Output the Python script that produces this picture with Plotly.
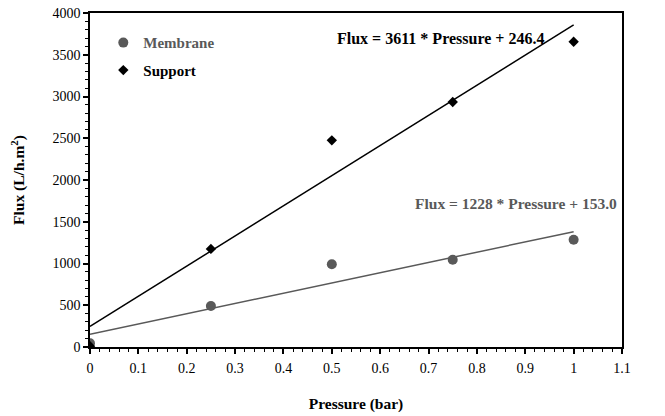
import plotly.graph_objects as go

pressure = [0, 0.25, 0.5, 0.75, 1.0]
membrane_flux = [45, 490, 990, 1045, 1285]
support_flux = [10, 1175, 2475, 2935, 3655]

fit_x = [0, 1.0]
support_slope, support_intercept = 3611, 246.4
membrane_slope, membrane_intercept = 1228, 153.0

x_tick_vals = [0, 0.1, 0.2, 0.3, 0.4, 0.5, 0.6, 0.7, 0.8, 0.9, 1.0, 1.1]
x_tick_text = ["0", "0.1", "0.2", "0.3", "0.4", "0.5", "0.6", "0.7", "0.8", "0.9", "1", "1.1"]

GRAY = "#595959"
FONT = "Liberation Serif"

fig = go.Figure()
fig.add_trace(go.Scatter(x=fit_x, y=[support_slope * x + support_intercept for x in fit_x],
                         mode="lines", line=dict(color="black", width=1.5), showlegend=False))
fig.add_trace(go.Scatter(x=fit_x, y=[membrane_slope * x + membrane_intercept for x in fit_x],
                         mode="lines", line=dict(color=GRAY, width=1.5), showlegend=False))
fig.add_trace(go.Scatter(x=pressure, y=membrane_flux, mode="markers", legendgroup="m",
                         name="<span style='color:%s'><b>Membrane</b></span>" % GRAY,
                         marker=dict(symbol="circle", size=10, color=GRAY)))
fig.add_trace(go.Scatter(x=pressure, y=support_flux, mode="markers", legendgroup="s",
                         name="<b>Support</b>",
                         marker=dict(symbol="diamond", size=8, color="black")))

fig.add_annotation(x=0.725, y=3700, text="<b>Flux = 3611 * Pressure + 246.4</b>",
                   showarrow=False, font=dict(family=FONT, size=16, color="black"))
fig.add_annotation(x=0.88, y=1713, text="<b>Flux = 1228 * Pressure + 153.0</b>",
                   showarrow=False, font=dict(family=FONT, size=15.5, color=GRAY))

fig.update_layout(
    width=665, height=416,
    margin=dict(l=90, r=43, t=13, b=69),
    plot_bgcolor="white", paper_bgcolor="white",
    font=dict(family=FONT, size=14, color="black"),
    legend=dict(x=0.025, y=0.96, xanchor="left", yanchor="top",
                bgcolor="rgba(0,0,0,0)", font=dict(family=FONT, size=15),
                itemwidth=30, tracegroupgap=5),
    xaxis=dict(range=[0, 1.1], tickvals=x_tick_vals, ticktext=x_tick_text, automargin=False,
               showgrid=False, zeroline=False, showline=True, linecolor="black", linewidth=1.5,
               mirror=True, ticks="outside", ticklen=5, tickwidth=1.5, tickcolor="black",
               ticklabelstandoff=2,
               minor=dict(dtick=0.02, ticks="outside", ticklen=3, tickcolor="black", tickwidth=1),
               title=dict(text="<b>Pressure (bar)</b>", font=dict(family=FONT, size=15.5), standoff=24)),
    yaxis=dict(range=[0, 4000], dtick=500, showgrid=False, zeroline=False, showline=True,
               automargin=False,
               linecolor="black", linewidth=1.5, mirror=True, ticks="outside", ticklen=5,
               tickwidth=1.5, tickcolor="black",
               minor=dict(dtick=100, ticks="outside", ticklen=3, tickcolor="black", tickwidth=1),
               title=dict(text="<b>Flux (L/h.m<sup>2</sup>)</b>", font=dict(family=FONT, size=15.5), standoff=24)),
)

fig.write_html("out.html", config={"displayModeBar": False},
               post_script="document.body.style.margin='0';document.body.style.overflow='hidden';")
